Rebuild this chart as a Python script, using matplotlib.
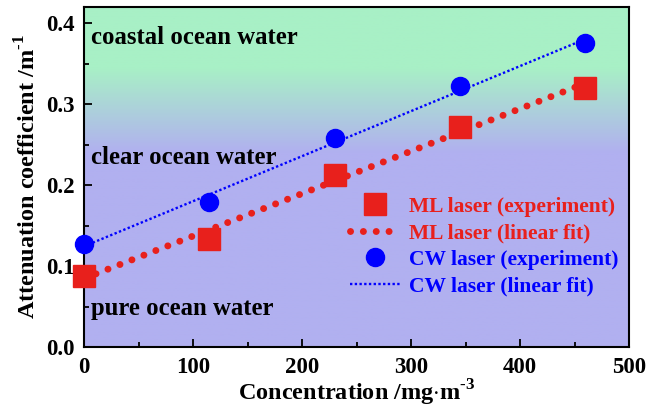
import numpy as np
import matplotlib
matplotlib.use("Agg")
import matplotlib.pyplot as plt
from matplotlib.lines import Line2D

concentration = [0, 115, 230, 345, 460]
ml_atten = [0.088, 0.133, 0.213, 0.272, 0.320]
cw_atten = [0.127, 0.179, 0.258, 0.323, 0.375]
x_ticks = [0, 100, 200, 300, 400, 500]
y_ticks = [0.0, 0.1, 0.2, 0.3, 0.4]
regions = ["coastal ocean water", "clear ocean water", "pure ocean water"]
region_y = [0.382, 0.234, 0.047]
legend_labels = ["ML laser (experiment)", "ML laser (linear fit)",
                 "CW laser (experiment)", "CW laser (linear fit)"]

plt.rcParams['font.family'] = ['Liberation Serif', 'DejaVu Serif']
plt.rcParams['font.weight'] = 'bold'
plt.rcParams['mathtext.fontset'] = 'custom'
plt.rcParams['mathtext.rm'] = 'Liberation Serif:bold'
plt.rcParams['mathtext.bf'] = 'Liberation Serif:bold'

fig = plt.figure(figsize=(6.47, 4.11), dpi=100)
ax = fig.add_axes([84/647, 1-347/411, 545/647, 340/411])

xlim = (0, 500)
ylim = (0, 0.42)
# background gradient
ygrid = np.linspace(ylim[0], ylim[1], 400).reshape(-1, 1)
green = np.array([168, 240, 198]) / 255
purple = np.array([177, 176, 240]) / 255
t = np.clip((ygrid - 0.24) / (0.345 - 0.24), 0, 1)
img = purple + (green - purple) * t[..., None]
img = img.reshape(400, 1, 3)
ax.imshow(img, extent=[xlim[0], xlim[1], ylim[0], ylim[1]], origin='lower',
          aspect='auto', zorder=0)

red = '#e8201c'
blue = '#0000ff'
ml_style = (0, (0.01, 1.84))
cw_style = (0, (1, 1))
xs = np.array(concentration, dtype=float)
pm = np.polyfit(xs, ml_atten, 1)
pc = np.polyfit(xs, cw_atten, 1)
xf = np.array([xs[0], xs[-1]])

ax.plot(xf, np.polyval(pm, xf), color=red, lw=5, linestyle=ml_style,
        dash_capstyle='round', zorder=2)
ax.plot(xf, np.polyval(pc, xf), color=blue, lw=1.7, linestyle=cw_style,
        zorder=2)
ax.plot(xs, ml_atten, 's', color=red, ms=15.5, mec=red, zorder=3, clip_on=False)
ax.plot(xs, cw_atten, 'o', color=blue, ms=13, zorder=3, clip_on=False)

for txt, yy in zip(regions, region_y):
    ax.text(6, yy, txt, fontsize=17.8, fontweight='bold', va='center', ha='left',
            zorder=4)

ax.set_xlim(*xlim)
ax.set_ylim(*ylim)
ax.set_xticks(x_ticks)
ax.set_yticks(y_ticks)
ax.set_xticklabels([str(v) for v in x_ticks])
ax.set_yticklabels([f"{v:.1f}" for v in y_ticks])
ax.set_xticks(np.arange(50, 500, 100), minor=True)
ax.set_yticks(np.arange(0.05, 0.42, 0.1), minor=True)
ax.tick_params(which='both', direction='in', labelsize=16.5, width=1.3)
ax.tick_params(axis='y', pad=7)
ax.tick_params(axis='x', pad=7)
ax.tick_params(which='major', length=6)
ax.tick_params(which='minor', length=3.5)
for lab in ax.get_xticklabels() + ax.get_yticklabels():
    lab.set_fontweight('bold')
for sp in ax.spines.values():
    sp.set_linewidth(1.5)

ax.set_xlabel(r"Concentration /mg$\cdot$m$^{\text{-3}}$", fontsize=17.5,
              fontweight='bold', labelpad=0)
ax.set_ylabel(r"Attenuation coefficient /m$^{\text{-1}}$", fontsize=17.5,
              fontweight='bold', labelpad=4)

handles = [
    Line2D([], [], marker='s', color=red, ls='none', ms=15.5),
    Line2D([], [], color=red, lw=5, linestyle=ml_style, dash_capstyle='round'),
    Line2D([], [], marker='o', color=blue, ls='none', ms=13),
    Line2D([], [], color=blue, lw=1.7, linestyle=cw_style),
]
leg = ax.legend(handles, legend_labels, loc='center right',
                bbox_to_anchor=(1.0, 0.295), frameon=False,
                prop={'family': 'Liberation Serif', 'weight': 'bold', 'size': 15.5},
                handlelength=2.4, handletextpad=0.35, labelspacing=0.3,
                borderaxespad=0.15, borderpad=0.35)
for txt, c in zip(leg.get_texts(), [red, red, blue, blue]):
    txt.set_color(c)

fig.savefig("out.png", dpi=100)
